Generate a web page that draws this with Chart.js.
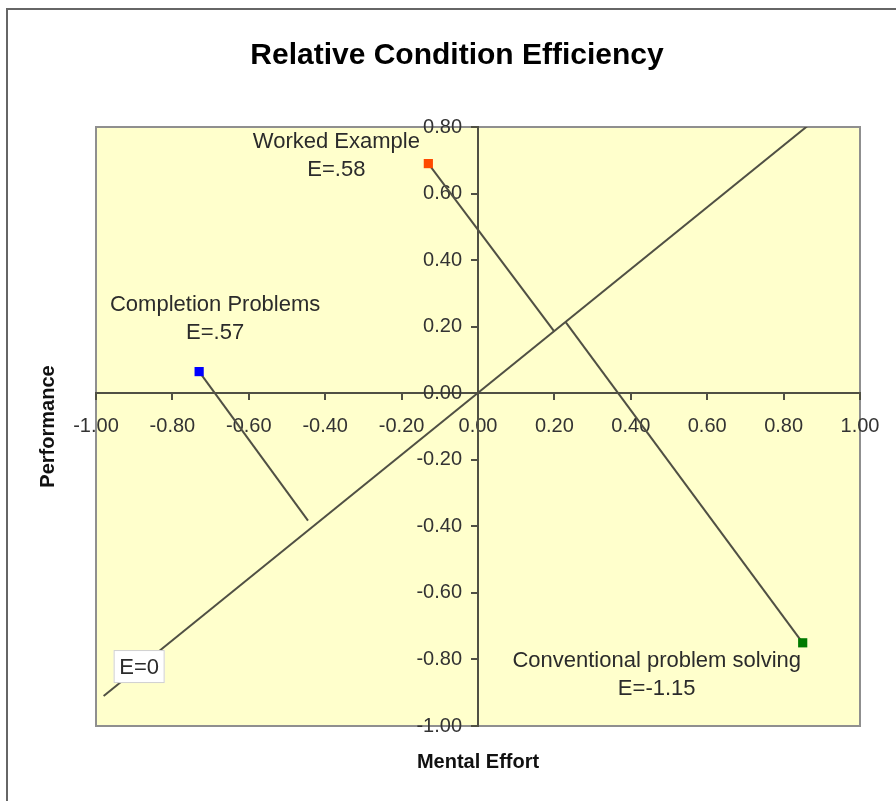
<!DOCTYPE html>
<html>
<head>
<meta charset="utf-8">
<script src="https://cdn.jsdelivr.net/npm/chart.js@4.4.1/dist/chart.umd.min.js"></script>
<style>
  html, body { margin: 0; padding: 0; background: #fff; }
  #wrap { position: relative; width: 896px; height: 801px; }
  #frame { position: absolute; left: 6px; top: 8px; right: -4px; bottom: -4px; border-left: 2px solid #666; border-top: 2px solid #666; }
  canvas { position: absolute; left: 0; top: 0; }
</style>
</head>
<body>
<div id="wrap">
  <div id="frame"></div>
  <canvas id="chart" width="896" height="801"></canvas>
</div>
<script>
// conditions: mental effort (x), performance (y)
const conditions = ['Worked Example', 'Completion Problems', 'Conventional problem solving'];
const efficiencyText = ['E=.58', 'E=.57', 'E=-1.15'];
const effort = [-0.13, -0.73, 0.85];
const performance = [0.69, 0.065, -0.75];
const markerColors = ['#ff4a00', '#0000ff', '#007a00'];
// foot of each perpendicular near the E=0 line
const footEffort = [0.20, -0.445, 0.23];
const footPerformance = [0.185, -0.383, 0.213];
// E=0 reference line ends
const zeroLineX = [-0.98, 0.87];
const zeroLineY = [-0.91, 0.81];
const xTicks = [-1, -0.8, -0.6, -0.4, -0.2, 0, 0.2, 0.4, 0.6, 0.8, 1];
const yTicks = [-1, -0.8, -0.6, -0.4, -0.2, 0, 0.2, 0.4, 0.6, 0.8];

const FONT = '"Liberation Sans", Arial, sans-serif';
const LINE = '#505044';

const zeroLine = zeroLineX.map((x, i) => ({ x, y: zeroLineY[i] }));
const segments = conditions.map((name, i) => ({
  label: name + ' distance',
  data: [{ x: effort[i], y: performance[i] }, { x: footEffort[i], y: footPerformance[i] }],
  showLine: true,
  borderColor: LINE,
  borderWidth: 2,
  pointRadius: 0,
  order: 2
}));
const markers = conditions.map((name, i) => ({
  label: name,
  data: [{ x: effort[i], y: performance[i] }],
  pointStyle: 'rect',
  pointRadius: 6.5,
  pointHoverRadius: 6.5,
  backgroundColor: markerColors[i],
  borderColor: markerColors[i],
  borderWidth: 0,
  order: 1
}));

// where the text sits relative to each marker
const labelOffsets = [
  { dx: -92, dy: [-22, 6] },
  { dx: 16, dy: [-67, -39] },
  { dx: -146, dy: [18, 46] }
];

const plotBackground = {
  id: 'plotBackground',
  beforeDraw(chart) {
    const { ctx, chartArea: a } = chart;
    ctx.save();
    ctx.fillStyle = '#ffffcc';
    ctx.fillRect(a.left, a.top, a.width, a.height);
    ctx.strokeStyle = '#8f8f8f';
    ctx.lineWidth = 2;
    ctx.strokeRect(a.left, a.top, a.width, a.height);
    ctx.restore();
  }
};

const textLayer = {
  id: 'textLayer',
  afterDatasetsDraw(chart) {
    const { ctx, chartArea: a } = chart;
    ctx.save();
    ctx.textAlign = 'center';
    ctx.textBaseline = 'middle';
    // title
    ctx.fillStyle = '#000';
    ctx.font = 'bold 30px ' + FONT;
    ctx.fillText('Relative Condition Efficiency', 457, 56);
    ctx.fillStyle = '#2b2b2b';
    ctx.font = '22px ' + FONT;
    const first = segments.length + 1;
    conditions.forEach((name, i) => {
      const pt = chart.getDatasetMeta(first + i).data[0];
      const off = labelOffsets[i];
      ctx.fillText(name, pt.x + off.dx, pt.y + off.dy[0]);
      ctx.fillText(efficiencyText[i], pt.x + off.dx, pt.y + off.dy[1]);
    });
    // E=0 tag box near lower end of the reference line
    const lo = chart.getDatasetMeta(0).data[0];
    const bx = lo.x + 10, by = lo.y - 46, bw = 51, bh = 33;
    ctx.fillStyle = '#ffffff';
    ctx.fillRect(bx, by, bw, bh);
    ctx.strokeStyle = '#d0d0d0';
    ctx.lineWidth = 1;
    ctx.strokeRect(bx + 0.5, by + 0.5, bw - 1, bh - 1);
    ctx.fillStyle = '#2b2b2b';
    ctx.fillText('E=0', bx + bw / 2, by + bh / 2 + 1);
    // axis titles
    ctx.fillStyle = '#111';
    ctx.font = 'bold 20px ' + FONT;
    ctx.fillText('Mental Effort', (a.left + a.right) / 2, a.bottom + 36);
    ctx.translate(48, (a.top + a.bottom) / 2);
    ctx.rotate(-Math.PI / 2);
    ctx.fillText('Performance', 0, 0);
    ctx.restore();
  }
};

const noSpace = s => {
  s.width = s.axis === 'y' ? 0 : s.width;
  s.height = s.axis === 'x' ? 0 : s.height;
  s.paddingLeft = 0; s.paddingRight = 0; s.paddingTop = 0; s.paddingBottom = 0;
};

// y labels sit a little left of the crossing axis
const yAxisFit = s => {
  noSpace(s);
  if (!s._origLabelItems) {
    s._origLabelItems = s._computeLabelItems;
    s._computeLabelItems = function (area) {
      const items = s._origLabelItems.call(this, area);
      items.forEach(it => { it.options.translation = [it.options.translation[0] - 16, it.options.translation[1]]; });
      return items;
    };
  }
};

new Chart(document.getElementById('chart'), {
  type: 'scatter',
  data: {
    datasets: [
      { label: 'E=0', data: zeroLine, showLine: true, borderColor: LINE, borderWidth: 2, pointRadius: 0, order: 3 },
      ...segments,
      ...markers
    ]
  },
  options: {
    responsive: false,
    animation: false,
    layout: { padding: { left: 96, right: 36, top: 127, bottom: 75 } },
    plugins: {
      legend: { display: false },
      tooltip: { enabled: false },
      title: { display: false }
    },
    scales: {
      x: {
        type: 'linear',
        position: { y: 0 },
        min: -1, max: 1,
        afterBuildTicks: s => { s.ticks = xTicks.map(v => ({ value: v })); },
        afterFit: noSpace,
        ticks: {
          callback: v => v.toFixed(2),
          font: { family: FONT, size: 20 },
          color: '#333',
          maxRotation: 0,
          autoSkip: false,
          padding: 15
        },
        grid: { drawOnChartArea: false, drawTicks: true, tickLength: 6, color: LINE, lineWidth: 2 },
        border: { color: LINE, width: 2 }
      },
      y: {
        type: 'linear',
        position: { x: 0 },
        min: -1, max: 0.8,
        afterBuildTicks: s => { s.ticks = yTicks.map(v => ({ value: v })); },
        afterFit: yAxisFit,
        ticks: {
          callback: v => v.toFixed(2),
          font: { family: FONT, size: 20 },
          color: '#333',
          autoSkip: false
        },
        grid: { drawOnChartArea: false, drawTicks: true, tickLength: 6, color: LINE, lineWidth: 2 },
        border: { color: LINE, width: 2 }
      }
    }
  },
  plugins: [plotBackground, textLayer]
});
</script>
</body>
</html>
